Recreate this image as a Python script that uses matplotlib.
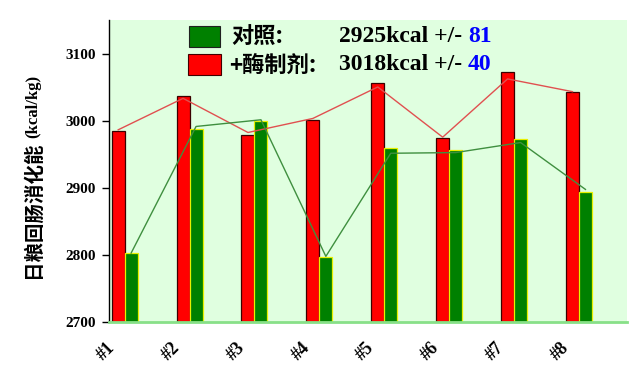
import numpy as np
import matplotlib
matplotlib.use('Agg')
import matplotlib.pyplot as plt
from matplotlib.patches import Rectangle

# data
samples = ['#1', '#2', '#3', '#4', '#5', '#6', '#7', '#8']
enzyme = [2985, 3037, 2980, 3001, 3057, 2975, 3074, 3043]
control = [2803, 2988, 3000, 2797, 2960, 2957, 2974, 2894]
enzyme_line = [2987, 3034, 2983, 3004, 3051, 2976, 3063, 3044]
control_line = [2803, 2992, 3002, 2798, 2952, 2953, 2968, 2898]
yticks = [2700, 2800, 2900, 3000, 3100]

W, H = 640, 365
fig = plt.figure(figsize=(6.4, 3.65), dpi=100)
ax = fig.add_axes([108.7 / W, 1 - 322 / H, (627 - 108.7) / W, (322 - 20) / H])
ax.set_facecolor('#E0FFE0')

x = np.arange(len(samples))
w = 0.2
ax.bar(x - w / 2, [v - 2700 for v in enzyme], w, bottom=2700, color='#FF0000',
       edgecolor='#3A0000', linewidth=0.9, zorder=2)
ax.bar(x + w / 2, [v - 2700 for v in control], w, bottom=2700, color='#008000',
       edgecolor='#E8F000', linewidth=0.9, zorder=2)
ax.plot(x - w / 2, enzyme_line, color='#E05050', lw=1.0, zorder=3)
ax.plot(x + w / 2, control_line, color='#3F8F3F', lw=1.0, zorder=3)

ax.set_xlim(-0.246, 7.74)
ax.set_ylim(2700, 3151)
ax.set_yticks(yticks)
ax.set_yticklabels([str(t) for t in yticks], family='Liberation Serif',
                   fontweight='bold', fontsize=11)
ax.tick_params(axis='y', length=5, width=1, direction='out', pad=4)
ax.set_xticks(x - w / 2)
ax.set_xticklabels(samples, rotation=45, ha='right', family='Liberation Serif',
                   fontweight='bold', fontsize=13)
ax.tick_params(axis='x', length=0, pad=12)
for s in ['top', 'right']:
    ax.spines[s].set_visible(False)
ax.spines['left'].set_color('black')
ax.spines['left'].set_linewidth(1.0)
ax.spines['bottom'].set_color('#88E088')
ax.spines['bottom'].set_linewidth(2)

# y label: Chinese part and unit part
fig.text(33 / W, 1 - 210 / H, '日粮回肠消化能', rotation=90, ha='center', va='center',
         family='Noto Sans CJK SC', fontweight='bold', fontsize=14)
fig.text(33 / W, 1 - 106 / H, '(kcal/kg)', rotation=90, ha='center', va='center',
         family='Liberation Serif', fontweight='bold', fontsize=12)

# legend
def fx(px):
    return px / W

def fy(py):
    return 1 - py / H

fig.patches.append(Rectangle((fx(189), fy(46.7)), 31 / W, 21 / H, transform=fig.transFigure,
                             facecolor='#008000', edgecolor='#202020', lw=0.8, figure=fig))
fig.patches.append(Rectangle((fx(188), fy(75)), 33 / W, 21 / H, transform=fig.transFigure,
                             facecolor='#FF0000', edgecolor='#400000', lw=0.8, figure=fig))
fig.text(fx(231), fy(37), '对照:', ha='left', va='center', family='Noto Sans CJK SC',
         fontweight='bold', fontsize=16)
fig.text(fx(229), fy(65), '+酶制剂:', ha='left', va='center', family='Noto Sans CJK SC',
         fontweight='bold', fontsize=16)

rows = [('2925kcal +/-', '81', 37), ('3018kcal +/-', '40', 65)]
renderer = fig.canvas.get_renderer()
for txt, num, py in rows:
    t = fig.text(fx(339), fy(py), txt, ha='left', va='center', family='Liberation Serif',
                 fontweight='bold', fontsize=17)
    bb = t.get_window_extent(renderer)
    fig.text((bb.x1 + 6) / W, fy(py), num, ha='left', va='center', family='Liberation Serif',
             fontweight='bold', fontsize=17, color='#0000FF')

fig.savefig('out.png', dpi=100)
